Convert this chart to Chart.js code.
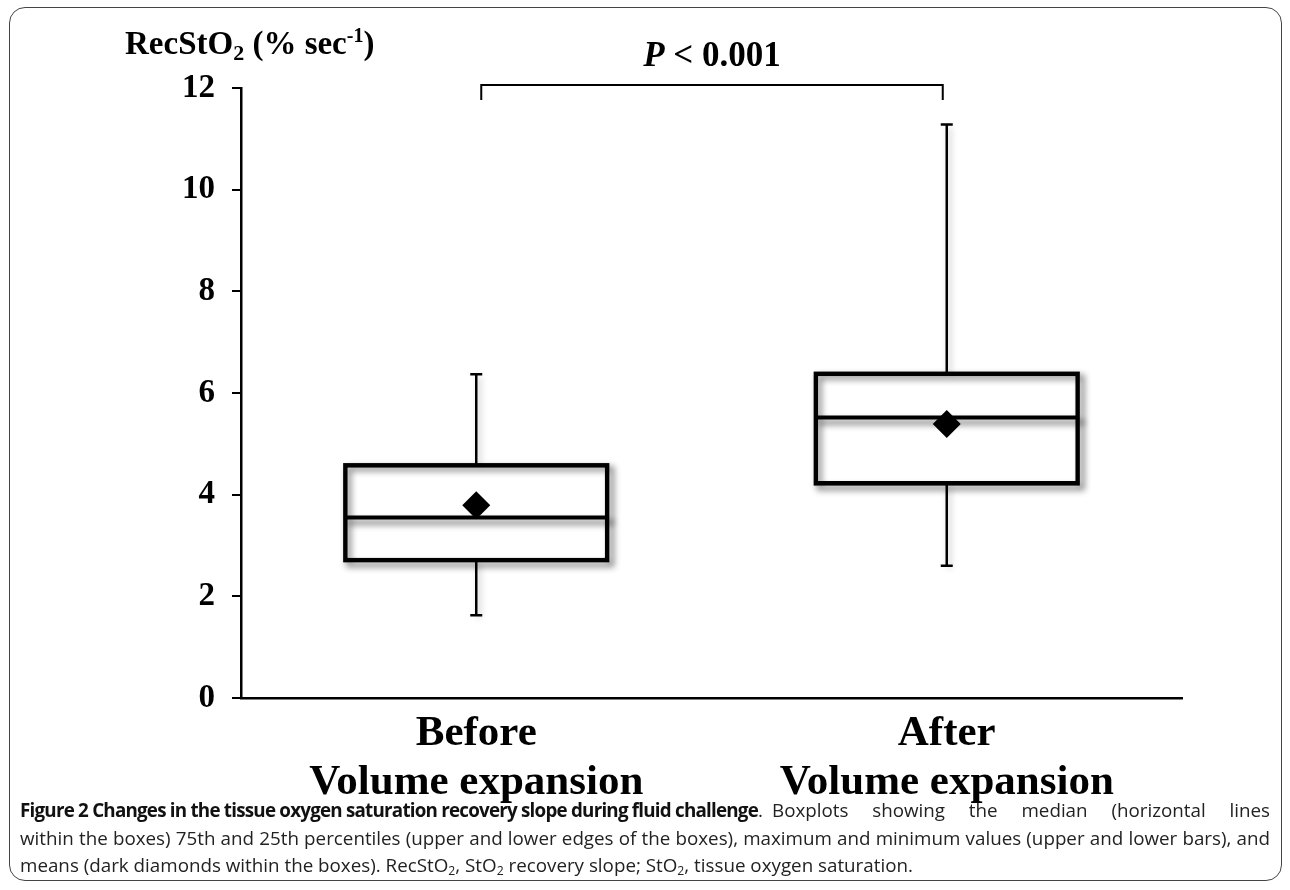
<!DOCTYPE html>
<html>
<head>
<meta charset="utf-8">
<script src="https://cdn.jsdelivr.net/npm/chart.js@4.4.1/dist/chart.umd.min.js"></script>
<style>
  html, body { margin: 0; padding: 0; background: #fff; }
  #wrap { position: relative; width: 1290px; height: 890px; overflow: hidden; background: #fff; }
  #frame { position: absolute; left: 9px; top: 7px; width: 1273px; height: 874px; border: 1.5px solid #444; border-radius: 16px; box-sizing: border-box; }
  #c { position: absolute; left: 0; top: 0; }
  #ytitle { position: absolute; left: 125px; top: 25px; font-family: "Liberation Serif", "Times New Roman", serif; font-weight: bold; font-size: 33px; color: #000; white-space: nowrap; }
  #ytitle sub { font-size: 22px; vertical-align: -6px; line-height: 0; }
  #ytitle sup { font-size: 20px; vertical-align: 12px; line-height: 0; }
  #caption { position: absolute; left: 20px; top: 797px; width: 1250px; font-family: "Open Sans", "Noto Sans", sans-serif; font-size: 18.8px; color: #222; line-height: 27.5px; }
  #caption .ln { text-align: justify; text-align-last: justify; white-space: normal; height: 27.5px; }
  #caption .ln.first { display: flex; white-space: nowrap; }
  #caption .part { display: block; text-align: justify; text-align-last: justify; white-space: normal; overflow: visible; box-sizing: border-box; }
  #caption .ln.last { text-align-last: left; white-space: nowrap; }
  #caption b { font-weight: bold; color: #111; }
  #caption sub { font-size: 0.65em; vertical-align: -3px; line-height: 0; }
  #measure { position: absolute; left: 0; top: -200px; white-space: nowrap; font-family: "Open Sans", "Noto Sans", sans-serif; visibility: hidden; }
</style>
</head>
<body>
<div id="wrap">
  <div id="frame"></div>
  <canvas id="c" width="1290" height="820"></canvas>
  <div id="ytitle">RecStO<sub>2</sub> (% sec<sup>-1</sup>)</div>
  <div id="caption">
    <div class="ln first"><span class="part" id="capP1" style="width:746px;text-align-last:left"><b id="capBold">Figure 2 Changes in the tissue oxygen saturation recovery slope during fluid challenge</b>.</span><span class="part" id="capP2" style="width:504px;padding-left:6px">Boxplots showing the median (horizontal lines</span></div>
    <div class="ln">within the boxes) 75th and 25th percentiles (upper and lower edges of the boxes), maximum and minimum values (upper and lower bars), and</div>
    <div class="ln last" id="capLast">means (dark diamonds within the boxes). RecStO<sub>2</sub>, StO<sub>2</sub> recovery slope; StO<sub>2</sub>, tissue oxygen saturation.</div>
  </div>
  <span id="measure"></span>
</div>
<script>
// ---- Data ----
const categories = [['Before', 'Volume expansion'], ['After', 'Volume expansion']];
const q1Values     = [2.70, 4.21];
const q3Values     = [4.59, 6.39];
const medianValues = [3.55, 5.52];
const meanValues   = [3.79, 5.39];
const minValues    = [1.63, 2.60];
const maxValues    = [6.37, 11.28];
const yTickValues  = [0, 2, 4, 6, 8, 10, 12];
const pValueLabel  = ['P', ' < 0.001'];

const boxData = categories.map((_, i) => [q1Values[i], q3Values[i]]);

const serif = '"Liberation Serif", "Times New Roman", serif';

// tighten the bold caption phrase so it ends where it does in the reference
(function fitCaption() {
  const m = document.getElementById('measure');
  const size = 18.8;
  m.style.fontSize = size + 'px';
  m.style.fontWeight = 'bold';
  const txt = document.getElementById('capBold').textContent;
  m.textContent = txt;
  const w = m.getBoundingClientRect().width;
  const target = 738;
  if (w > target) {
    document.getElementById('capBold').style.letterSpacing = ((target - w) / txt.length).toFixed(3) + 'px';
  }
})();

const boxPlugin = {
  id: 'boxExtras',
  afterDatasetDraw(chart, args) {
    if (args.index !== 0) return;
    const ctx = chart.ctx;
    const x = chart.scales.x, y = chart.scales.y;
    const meta = chart.getDatasetMeta(0);
    meta.data.forEach((bar, i) => {
      const cx = x.getPixelForValue(i);
      const half = bar.width / 2;
      const left = cx - half, right = cx + half;
      const yTop = y.getPixelForValue(q3Values[i]);
      const yBot = y.getPixelForValue(q1Values[i]);
      const yMed = y.getPixelForValue(medianValues[i]);
      const yMax = y.getPixelForValue(maxValues[i]);
      const yMin = y.getPixelForValue(minValues[i]);
      // soft drop shadow
      ctx.save();
      ctx.filter = 'blur(3px)';
      ctx.strokeStyle = 'rgba(0,0,0,0.45)';
      ctx.lineWidth = 5;
      ctx.strokeRect(left + 4, yTop + 4, right - left, yBot - yTop);
      ctx.beginPath();
      ctx.moveTo(left + 4, yMed + 5); ctx.lineTo(right + 6, yMed + 5);
      ctx.stroke();
      ctx.lineWidth = 2.5;
      ctx.strokeStyle = 'rgba(0,0,0,0.25)';
      ctx.beginPath();
      ctx.moveTo(cx + 3, yMax + 3); ctx.lineTo(cx + 3, yTop);
      ctx.moveTo(cx + 3, yBot + 3); ctx.lineTo(cx + 3, yMin + 3);
      ctx.stroke();
      ctx.restore();
      // whiskers + caps
      ctx.save();
      ctx.strokeStyle = '#000';
      ctx.lineWidth = 2.5;
      ctx.beginPath();
      ctx.moveTo(cx, yTop); ctx.lineTo(cx, yMax);
      ctx.moveTo(cx, yBot); ctx.lineTo(cx, yMin);
      ctx.moveTo(cx - 6, yMax); ctx.lineTo(cx + 6, yMax);
      ctx.moveTo(cx - 6, yMin); ctx.lineTo(cx + 6, yMin);
      ctx.stroke();
      // box outline redraw on top of shadow
      ctx.lineWidth = 3.2;
      ctx.strokeRect(left, yTop, right - left, yBot - yTop);
      // median
      ctx.lineWidth = 4;
      ctx.beginPath();
      ctx.moveTo(left, yMed); ctx.lineTo(right, yMed);
      ctx.stroke();
      ctx.restore();
    });
  },
  afterDraw(chart) {
    const ctx = chart.ctx;
    const x = chart.scales.x;
    const top = chart.chartArea.top;
    const xl = x.getPixelForValue(0) + 5;
    const xr = x.getPixelForValue(1) - 4;
    const yb = top - 3;
    ctx.save();
    ctx.strokeStyle = '#000';
    ctx.lineWidth = 2;
    ctx.beginPath();
    ctx.moveTo(xl, yb + 15); ctx.lineTo(xl, yb); ctx.lineTo(xr, yb); ctx.lineTo(xr, yb + 15);
    ctx.stroke();
    // P-value text
    ctx.fillStyle = '#000';
    ctx.textBaseline = 'alphabetic';
    const f1 = 'italic bold 35px ' + serif;
    const f2 = 'bold 35px ' + serif;
    ctx.font = f1; const w1 = ctx.measureText(pValueLabel[0]).width;
    ctx.font = f2; const w2 = ctx.measureText(pValueLabel[1]).width;
    const sx = (xl + xr) / 2 - (w1 + w2) / 2;
    const by = yb - 19;
    ctx.font = f1; ctx.fillText(pValueLabel[0], sx, by);
    ctx.font = f2; ctx.fillText(pValueLabel[1], sx + w1, by);
    ctx.restore();
  }
};

new Chart(document.getElementById('c'), {
  data: {
    labels: categories,
    datasets: [
      {
        type: 'bar',
        data: boxData,
        backgroundColor: '#fff',
        borderColor: '#000',
        borderWidth: 3,
        borderSkipped: false,
        categoryPercentage: 1,
        barPercentage: 0.559,
        order: 2
      },
      {
        type: 'line',
        data: meanValues,
        showLine: false,
        pointStyle: 'rectRot',
        pointRadius: 14,
        pointBackgroundColor: '#000',
        pointBorderColor: '#000',
        pointBorderWidth: 0,
        order: 1
      }
    ]
  },
  options: {
    responsive: false,
    animation: false,
    devicePixelRatio: 1,
    layout: { padding: { top: 88, right: 108, bottom: 0, left: 0 } },
    plugins: { legend: { display: false }, tooltip: { enabled: false } },
    scales: {
      x: {
        type: 'category',
        offset: true,
        grid: { display: true, drawOnChartArea: false, drawTicks: false },
        border: { display: true, color: '#000', width: 2.5 },
        ticks: {
          color: '#000',
          font: { family: serif, size: 43, weight: 'bold', lineHeight: 1.13 },
          padding: 12,
          maxRotation: 0,
          autoSkip: false
        },
        afterFit(scale) { scale.height = 122; }
      },
      y: {
        min: 0,
        max: 12,
        afterBuildTicks(scale) { scale.ticks = yTickValues.map(v => ({ value: v })); },
        grid: { display: true, drawOnChartArea: false, drawTicks: true, tickLength: 9, color: '#000', lineWidth: 2 },
        border: { display: true, color: '#000', width: 2.5 },
        ticks: {
          color: '#000',
          font: { family: serif, size: 33, weight: 'bold' },
          padding: 17
        },
        afterFit(scale) { scale.width = 241; }
      }
    }
  },
  plugins: [boxPlugin]
});
</script>
</body>
</html>
